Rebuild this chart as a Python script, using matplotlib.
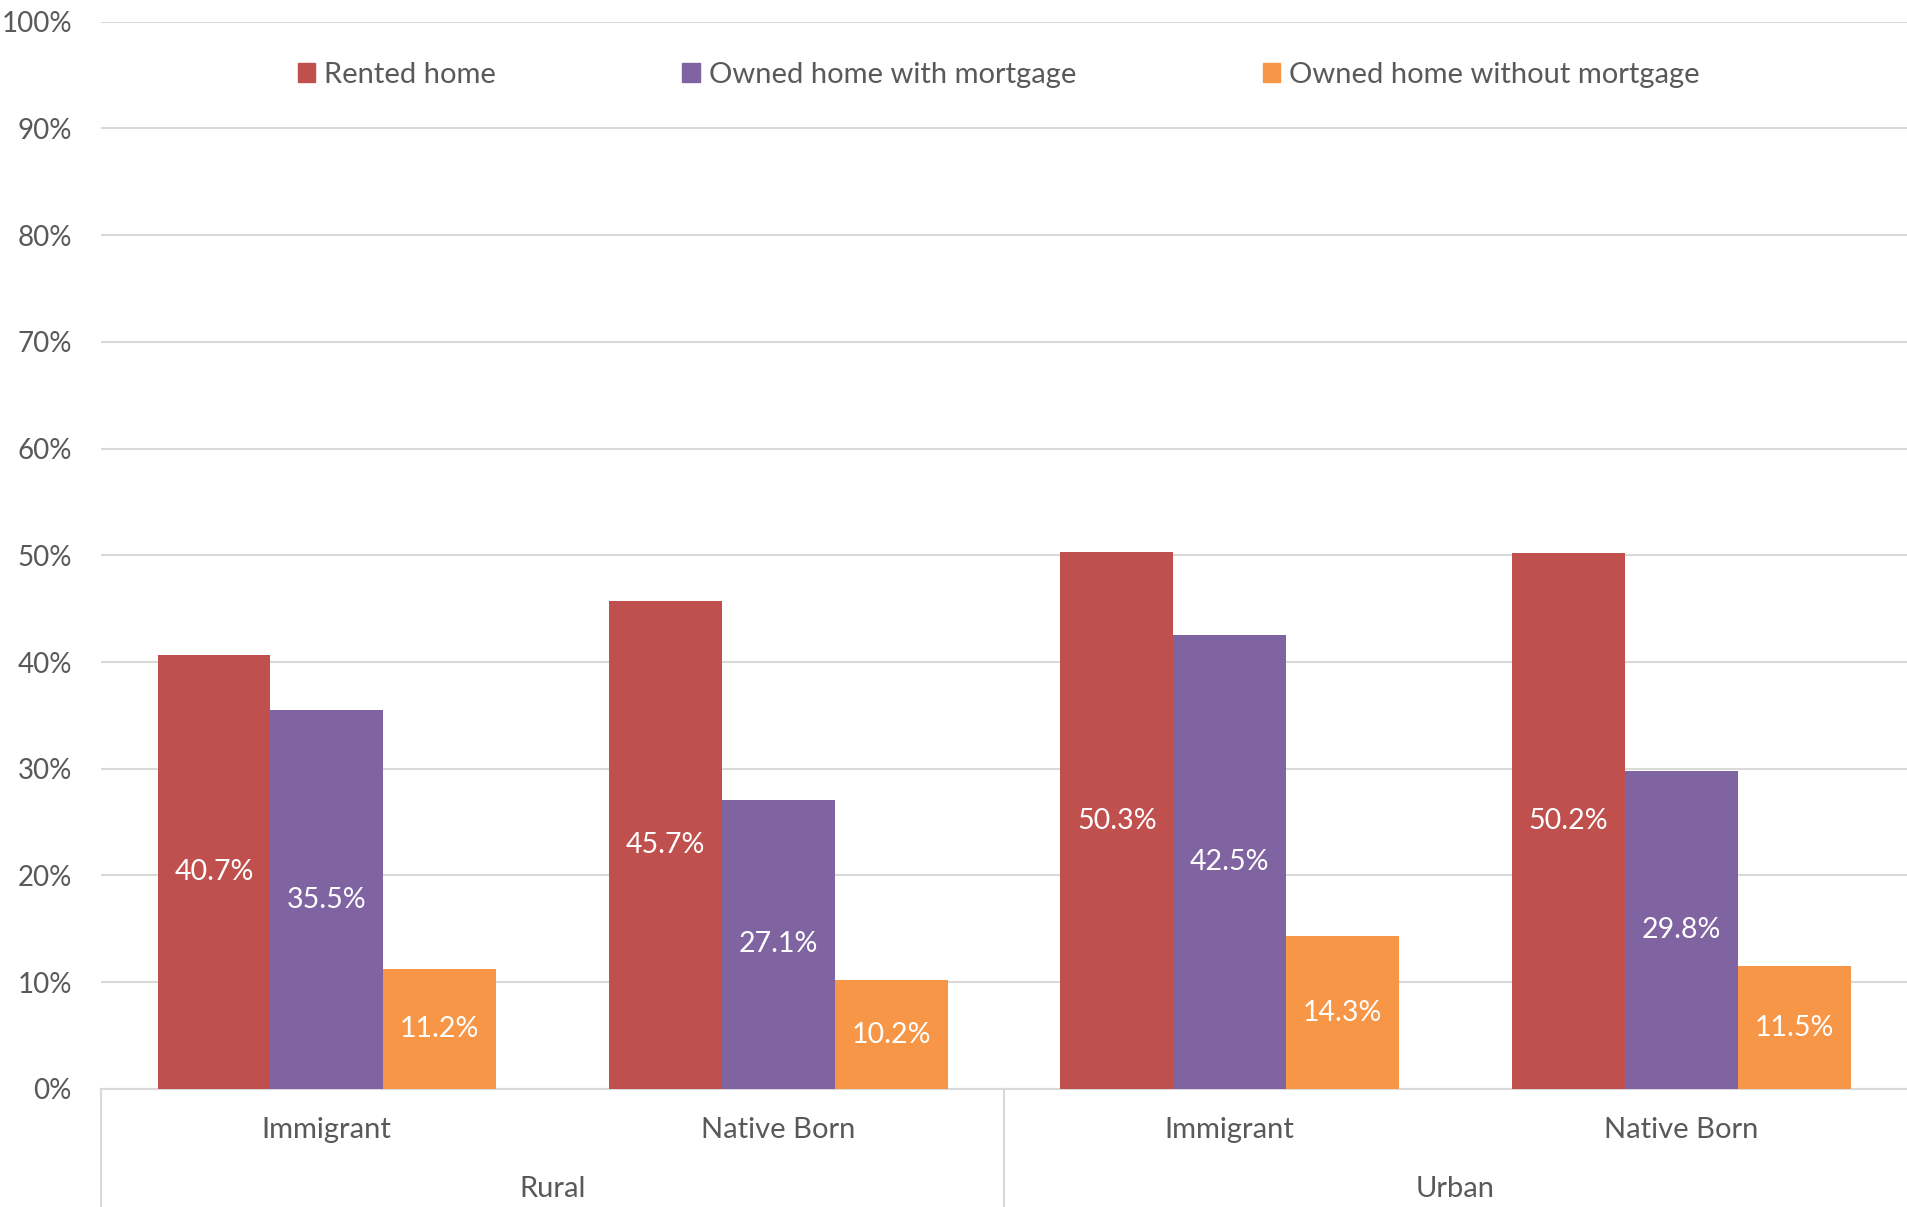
import matplotlib.pyplot as plt
from matplotlib.patches import Patch
from matplotlib.ticker import PercentFormatter
import matplotlib.transforms as mtransforms
import numpy as np

plt.rcParams['font.family'] = ['Lato', 'DejaVu Sans']

groups = ['Rural', 'Urban']
subgroups = ['Immigrant', 'Native Born', 'Immigrant', 'Native Born']
series = ['Rented home', 'Owned home with mortgage', 'Owned home without mortgage']
rented = [40.7, 45.7, 50.3, 50.2]
mortgage = [35.5, 27.1, 42.5, 29.8]
no_mortgage = [11.2, 10.2, 14.3, 11.5]
colors = ['#C0504D', '#8064A2', '#F79646']

grey = '#595959'
grid = '#d9d9d9'

fig = plt.figure(figsize=(19.07, 12.07), dpi=100)
ax = fig.add_axes([0.053, 0.0978, 0.947, 0.8843])

x = np.arange(len(subgroups))
w = 0.25
for i, (vals, c) in enumerate(zip([rented, mortgage, no_mortgage], colors)):
    bars = ax.bar(x + (i - 1) * w, vals, w, color=c, zorder=3)
    for b, v in zip(bars, vals):
        ax.text(b.get_x() + b.get_width() / 2, v / 2, f'{v:.1f}%', ha='center', va='center',
                color='white', fontsize=20.5, zorder=4)

ax.set_xlim(-0.5, len(subgroups) - 0.5)
ax.set_ylim(0, 100)
ax.set_yticks(np.arange(0, 101, 10))
ax.yaxis.set_major_formatter(PercentFormatter(decimals=0))
ax.tick_params(axis='y', length=0, pad=21, labelsize=20, labelcolor=grey)
ax.set_xticks([])
ax.grid(axis='y', color=grid, linewidth=1.5, zorder=0)
for s in ['top', 'right', 'left']:
    ax.spines[s].set_visible(False)
ax.spines['bottom'].set_color(grid)
ax.spines['bottom'].set_linewidth(1.5)

# two-level category axis
trans = mtransforms.blended_transform_factory(ax.transData, ax.transAxes)
for xi, lab in zip(x, subgroups):
    ax.text(xi, -0.038, lab, transform=trans, ha='center', va='center', fontsize=21, color=grey)
for gi, g in enumerate(groups):
    ax.text(gi * 2 + 0.5, -0.094, g, transform=trans, ha='center', va='center', fontsize=21, color=grey)
for xb in [-0.5, 1.5]:
    ax.plot([xb, xb], [0, -0.12], transform=trans, color=grid, linewidth=1.5, clip_on=False)

handles = [Patch(color=c) for c in colors]
ax.legend(handles, series, loc='center', bbox_to_anchor=(0.497, 0.950), ncol=3, frameon=False,
          fontsize=21, labelcolor=grey, handlelength=0.6, handleheight=0.6, handletextpad=0.3,
          columnspacing=6.4)

fig.savefig('out.png', dpi=100)
